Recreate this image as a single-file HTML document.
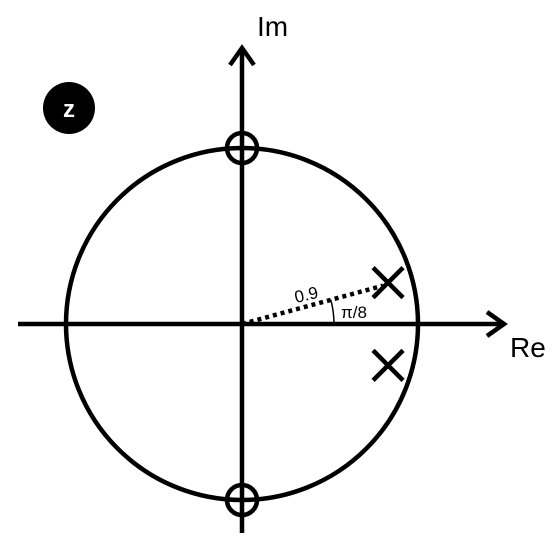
<!DOCTYPE html>
<html><head><meta charset="utf-8"><style>
html,body{margin:0;padding:0;background:#fff;width:553px;height:540px;overflow:hidden}
text{font-family:"Liberation Sans","DejaVu Sans",sans-serif}
</style></head><body>
<svg id="plot" width="553" height="540" viewBox="0 0 553 540"></svg>
<script>
const zeroRe=[0,0];
const zeroIm=[1,-1];
const poleRe=[0.83,0.83];
const poleIm=[0.235,-0.235];
const radiusLabel=["0.9"];
const angleLabel=["π/8"];
const cx=242, cy=324, R=176;
function X(v){return cx+v*R;}
function Y(v){return cy-v*R;}
const svg=document.getElementById('plot');
const NS='http://www.w3.org/2000/svg';
function mk(tag,attrs,name){const e=document.createElementNS(NS,tag);for(const k in attrs)e.setAttribute(k,attrs[k]);


svg.appendChild(e);return e;}
mk('circle',{cx:cx,cy:cy,r:R,fill:'none',stroke:'#000','stroke-width':4.5},'unit-circle');
mk('line',{x1:18,y1:cy,x2:503,y2:cy,stroke:'#000','stroke-width':4.5},'real-axis');
mk('polyline',{points:'487,312 504,324 487,336',fill:'none',stroke:'#000','stroke-width':4.5},'real-axis-arrow');
mk('line',{x1:cx,y1:533,x2:cx,y2:48,stroke:'#000','stroke-width':4.5},'imag-axis');
mk('polyline',{points:'230,65 242,48 254,65',fill:'none',stroke:'#000','stroke-width':4.5},'imag-axis-arrow');
let t=mk('text',{x:510,y:357,'font-size':28,fill:'#000'},'real-axis-label');t.textContent='Re';
t=mk('text',{x:257,y:36,'font-size':28,fill:'#000'},'imag-axis-label');t.textContent='Im';
mk('circle',{cx:69,cy:108,r:26,fill:'#000'},'z-plane-badge');
t=mk('text',{x:69,y:117,'font-size':24,'font-weight':'bold',fill:'#fff','text-anchor':'middle'},'z-plane-badge-label');t.textContent='z';
for(let i=0;i<zeroRe.length;i++){
 mk('circle',{cx:X(zeroRe[i]),cy:Y(zeroIm[i]),r:15,fill:'none',stroke:'#000','stroke-width':4.5},'zero-'+i);
}
const pr=X(poleRe[0])-5, pi=Y(poleIm[0])+3;
mk('line',{x1:cx,y1:cy,x2:pr,y2:pi,stroke:'#000','stroke-width':4.5,'stroke-dasharray':'4,4'},'radius-line');
const ang=Math.atan2(cy-pi,pr-cx), ar=92;
mk('path',{d:`M${cx+ar},${cy} A${ar},${ar} 0 0 0 ${cx+ar*Math.cos(ang)},${cy-ar*Math.sin(ang)}`,fill:'none',stroke:'#000','stroke-width':1.5},'angle-arc');
t=mk('text',{x:296,y:303,'font-size':17,fill:'#000',transform:'rotate(-13 296 303)'},'radius-label');t.textContent=radiusLabel[0];
t=mk('text',{x:341,y:318,'font-size':17,fill:'#000'},'angle-label');t.textContent=angleLabel[0];
for(let i=0;i<poleRe.length;i++){
 const px=X(poleRe[i]),py=Y(poleIm[i]),s=15;
 mk('path',{d:`M${px-s},${py-s}L${px+s},${py+s}M${px+s},${py-s}L${px-s},${py+s}`,stroke:'#000','stroke-width':4.5,fill:'none'},'pole-'+i);
}
</script>
</body></html>
